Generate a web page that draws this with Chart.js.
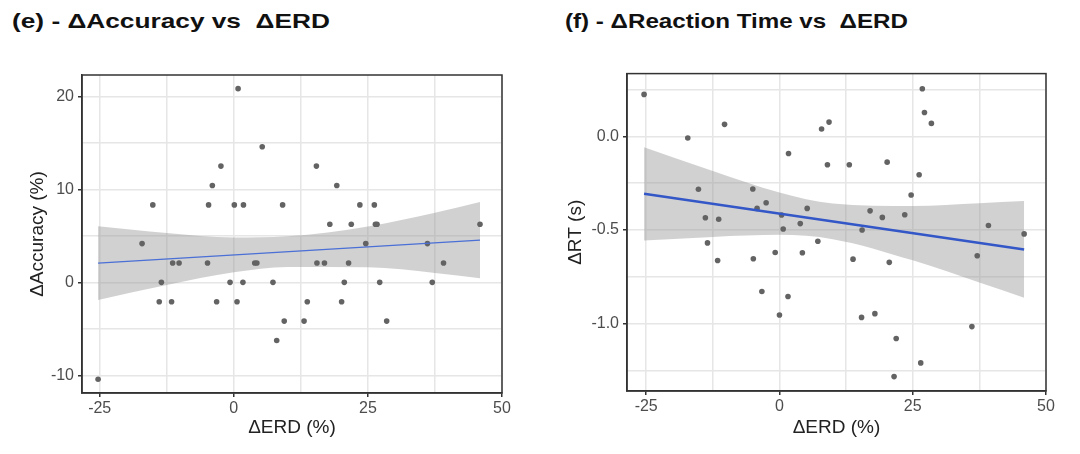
<!DOCTYPE html>
<html>
<head>
<meta charset="utf-8">
<script src="https://cdn.jsdelivr.net/npm/chart.js@4.4.1/dist/chart.umd.min.js"></script>
<style>
  body { margin: 0; background: #fff; width: 1080px; height: 454px; overflow: hidden; position: relative; }
  .title { position: absolute; top: 9px; font: bold 21px "Liberation Sans", Arial, sans-serif; color: #111;
           white-space: pre; transform-origin: left top; }
  .panel { position: absolute; top: 60px; width: 540px; height: 394px; }
</style>
</head>
<body>
<div class="title" style="left:12px; transform: scaleX(1.25)">(e) - ΔAccuracy vs  ΔERD</div>
<div class="title" style="left:565px; transform: scaleX(1.15)">(f) - ΔReaction Time vs  ΔERD</div>
<div class="panel" style="left:0"><canvas id="accChart"></canvas></div>
<div class="panel" style="left:540px"><canvas id="rtChart"></canvas></div>
<script>
// panel (e) : ΔERD vs ΔAccuracy, one point per subject
const accErd = [0.8, 5.3, -2.4, -4.0, -15.1, -4.7, 0.1, 1.8, 9.1, -17.1, -11.4, -10.2, -4.9, 3.9, 4.3,
  -13.5, -0.7, 1.7, 7.3, -13.9, -11.6, -3.2, 0.6, 9.4, 8.0, -25.3,
  15.4, 19.2, 23.5, 26.2, 17.9, 21.9, 26.7, 26.4, 45.9, 24.6, 36.1, 15.5, 16.9, 21.4, 39.1,
  20.6, 27.2, 37.0, 13.7, 20.1, 13.1, 28.5];
const accDelta = [20.83, 14.58, 12.5, 10.42, 8.33, 8.33, 8.33, 8.33, 8.33, 4.17, 2.08, 2.08, 2.08, 2.08, 2.08,
  0, 0, 0, 0, -2.08, -2.08, -2.08, -2.08, -4.17, -6.25, -10.42,
  12.5, 10.42, 8.33, 8.33, 6.25, 6.25, 6.25, 6.25, 6.25, 4.17, 4.17, 2.08, 2.08, 2.08, 2.08,
  0, 0, 0, -2.08, -2.08, -4.17, -4.17];
// fitted line and its confidence band
const accFitX = [-25.3, 45.9];
const accFitY = [2.07, 4.54];
const accBandX = [-25.3, -12.5, 0, 10, 25, 37.5, 45.9];
const accBandHigh = [6.04, 5.31, 4.82, 4.95, 6.02, 7.49, 8.64];
const accBandLow = [-1.9, -0.29, 1.08, 1.65, 1.62, 1.01, 0.44];

// panel (f) : ΔERD vs ΔRT
const rtErd = [-25.4, -17.2, -10.3, 1.7, 7.9, 9.3, 9.0, -15.2, -5.0, -2.5, -4.2, 5.2, -13.9, -11.4, 0.4,
  0.7, 3.9, -13.5, 7.2, -11.6, -4.9, -0.8, 4.3, -3.3, 1.6, 0.0,
  13.1, 20.2, 26.8, 27.2, 28.5, 26.2, 24.7, 17.0, 19.3, 23.5, 15.5, 39.2, 45.9, 37.1, 13.8,
  20.6, 15.4, 17.9, 36.1, 21.9, 26.5, 21.5];
const rtDelta = [0.224, -0.009, 0.064, -0.092, 0.039, 0.076, -0.152, -0.283, -0.281, -0.355, -0.385, -0.385, -0.435, -0.443, -0.42,
  -0.495, -0.466, -0.569, -0.56, -0.663, -0.654, -0.62, -0.622, -0.829, -0.855, -0.954,
  -0.152, -0.138, 0.254, 0.127, 0.069, -0.205, -0.313, -0.398, -0.433, -0.419, -0.5, -0.476, -0.521, -0.638, -0.656,
  -0.673, -0.967, -0.947, -1.016, -1.08, -1.21, -1.283];
const rtFitX = [-25.4, 45.9];
const rtFitY = [-0.307, -0.604];
const rtBandX = [-25.4, -12.5, 0, 10, 25, 37.5, 45.9];
const rtBandHigh = [-0.058, -0.185, -0.3, -0.359, -0.372, -0.357, -0.346];
const rtBandLow = [-0.556, -0.537, -0.526, -0.549, -0.662, -0.781, -0.862];

// tick positions (grid every half step, labels on the whole ones)
const erdTicks = [-25, -12.5, 0, 12.5, 25, 37.5, 50];
const accTicks = [-10, -5, 0, 5, 10, 15, 20];
const rtTicks = [-1.25, -1, -0.75, -0.5, -0.25, 0, 0.25];

const tickFont = { family: 'Liberation Sans', size: 16 };
const titleFont = { family: 'Liberation Sans', size: 19 };

function pts(xs, ys) {
  return xs.map((x, i) => ({ x: x, y: ys[i] }));
}

const panelBox = {
  id: 'panelBox',
  afterDraw(chart) {
    const a = chart.chartArea;
    const ctx = chart.ctx;
    ctx.save();
    ctx.strokeStyle = '#333';
    ctx.lineWidth = 1.5;
    ctx.strokeRect(a.left, a.top, a.right - a.left, a.bottom - a.top);
    ctx.restore();
  }
};

function makeChart(id, o) {
  const isMajorX = v => v % 25 === 0;
  return new Chart(document.getElementById(id), {
    type: 'scatter',
    data: {
      datasets: [
        { type: 'line', data: pts(o.fitX, o.fitY), borderColor: o.lineColor, borderWidth: o.lineWidth,
          pointRadius: 0, fill: false },
        { data: pts(o.x, o.y), backgroundColor: '#636363', pointRadius: 2.8, pointBorderWidth: 0 },
        { type: 'line', data: pts(o.bandX, o.bandLow), borderWidth: 0, pointRadius: 0,
          cubicInterpolationMode: 'monotone', fill: '+1', backgroundColor: 'rgba(150,150,150,0.44)' },
        { type: 'line', data: pts(o.bandX, o.bandHigh), borderWidth: 0, pointRadius: 0,
          cubicInterpolationMode: 'monotone', fill: false }
      ]
    },
    options: {
      responsive: true,
      maintainAspectRatio: false,
      animation: false,
      layout: { padding: o.padding },
      plugins: { legend: { display: false }, tooltip: { enabled: false } },
      scales: {
        x: {
          type: 'linear', min: o.xMin, max: 50,
          afterBuildTicks: s => { s.ticks = erdTicks.map(v => ({ value: v })); },
          afterFit: s => { s.height = o.xHeight; },
          grid: { color: '#e6e6e6', lineWidth: 1.5, tickLength: 4,
                  tickColor: c => isMajorX(c.tick.value) ? '#333' : 'rgba(0,0,0,0)' },
          border: { color: '#333', width: 1.5 },
          ticks: { autoSkip: false, maxRotation: 0, padding: 2, color: '#4d4d4d', font: tickFont,
                   callback: v => isMajorX(v) ? String(v) : '' },
          title: { display: true, text: 'ΔERD (%)', color: '#222', font: titleFont,
                   padding: { top: 0, bottom: 15 } }
        },
        y: {
          type: 'linear', min: o.yMin, max: o.yMax,
          afterBuildTicks: s => { s.ticks = o.yTicks.map(v => ({ value: v })); },
          afterFit: s => { s.width = o.yWidth; },
          grid: { color: '#e6e6e6', lineWidth: 1.5, tickLength: 4,
                  tickColor: c => o.isMajorY(c.tick.value) ? '#333' : 'rgba(0,0,0,0)' },
          border: { color: '#333', width: 1.5 },
          ticks: { autoSkip: false, padding: 4, color: '#4d4d4d', font: tickFont,
                   callback: v => o.isMajorY(v) ? o.fmt(v) : '' },
          title: { display: true, text: o.yTitle, color: '#222', font: titleFont,
                   padding: { top: o.yTitlePad, bottom: 0 } }
        }
      }
    },
    plugins: [panelBox]
  });
}

makeChart('accChart', {
  x: accErd, y: accDelta, fitX: accFitX, fitY: accFitY,
  bandX: accBandX, bandLow: accBandLow, bandHigh: accBandHigh,
  lineColor: '#4a6fd6', lineWidth: 1.2, xMin: -28.3, yMin: -11.9, yMax: 22.3, yTicks: accTicks,
  isMajorY: v => v % 10 === 0, fmt: v => String(v),
  yTitle: 'ΔAccuracy (%)', yTitlePad: 26, yWidth: 82, xHeight: 61,
  padding: { left: 0, top: 15, right: 38, bottom: 0 }
});

makeChart('rtChart', {
  x: rtErd, y: rtDelta, fitX: rtFitX, fitY: rtFitY,
  bandX: rtBandX, bandLow: rtBandLow, bandHigh: rtBandHigh,
  lineColor: '#3457c8', lineWidth: 2.6, xMin: -28.6, yMin: -1.36, yMax: 0.335, yTicks: rtTicks,
  isMajorY: v => Math.abs(v * 2 - Math.round(v * 2)) < 1e-9, fmt: v => v.toFixed(1),
  yTitle: 'ΔRT (s)', yTitlePad: 24, yWidth: 87, xHeight: 63,
  padding: { left: 0, top: 13, right: 34, bottom: 0 }
});
</script>
</body>
</html>
